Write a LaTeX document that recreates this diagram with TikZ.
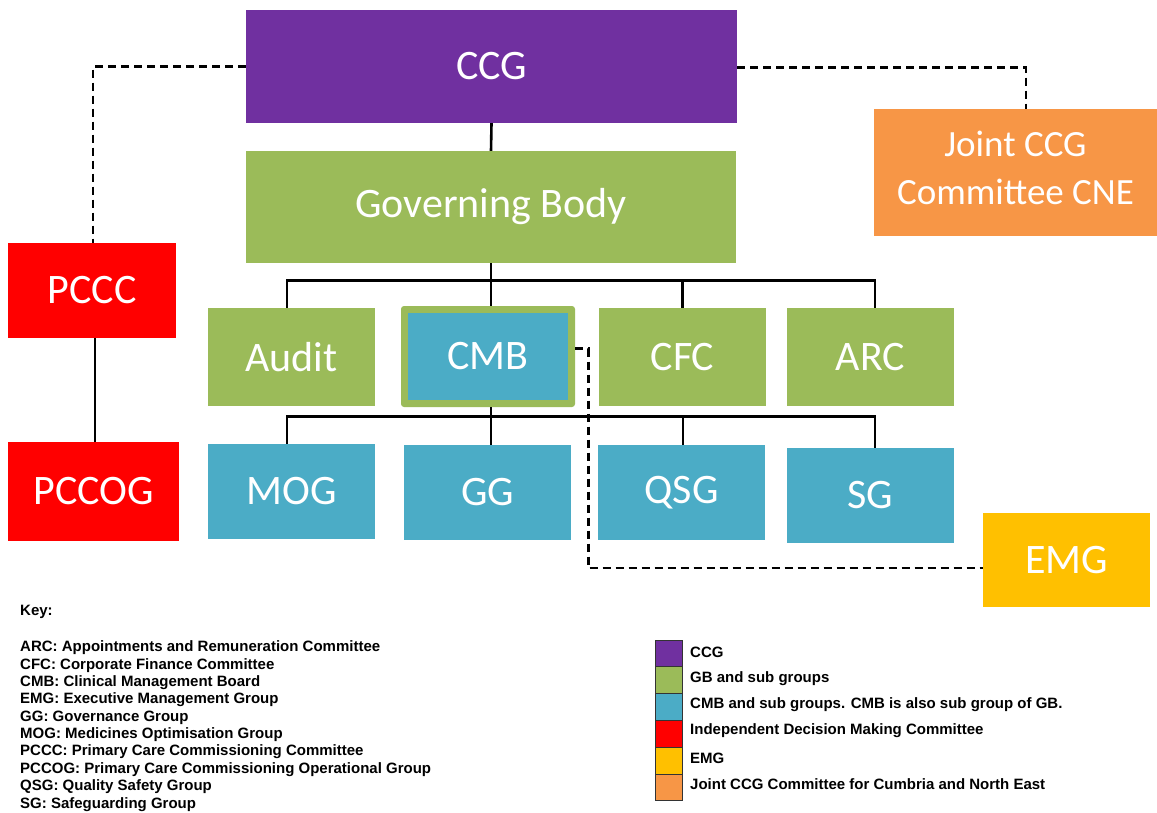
\documentclass[tikz,border=0pt]{standalone}
\usepackage{fontspec}
\setmainfont{Liberation Sans}
\newfontfamily\boxfont{Carlito}
\definecolor{ccgpurple}{HTML}{7030A0}
\definecolor{gbgreen}{HTML}{9BBB59}
\definecolor{cmbblue}{HTML}{4BACC6}
\definecolor{redbox}{HTML}{FF0000}
\definecolor{emgyellow}{HTML}{FFC000}
\definecolor{jointorange}{HTML}{F79646}
\begin{document}
\begin{tikzpicture}[x=1pt,y=-1pt,
  box/.style={fill=#1, text=white, inner sep=0pt, font=\boxfont\fontsize{42}{48}\selectfont, align=center},
  conn/.style={line width=2.6pt, black},
  dconn/.style={line width=2.6pt, black, dash pattern=on 8pt off 5pt},
  keytext/.style={anchor=west, inner sep=0pt, font=\bfseries\fontsize{15}{17}\selectfont},
  swatch/.style={fill=#1, draw=black!80, line width=1pt, minimum width=27pt, minimum height=26.8pt, inner sep=0pt},
  legtext/.style={anchor=west, inner sep=0pt, font=\bfseries\fontsize{15}{17}\selectfont}]
\useasboundingbox (0,0) rectangle (1157,812);

% main boxes
\node[box=ccgpurple, minimum width=491pt, minimum height=113pt] (ccg) at (491.5,66.5) {CCG};
\node[box=gbgreen, minimum width=490pt, minimum height=112pt] (gb) at (491,207) {Governing Body};
\node[box=jointorange, minimum width=283pt, minimum height=127pt, text depth=10pt, font=\boxfont\fontsize{37}{48}\selectfont] (joint) at (1015.5,172.5) {Joint CCG\\Committee CNE};
\node[box=redbox, minimum width=168pt, minimum height=95pt] (pccc) at (92,290.5) {PCCC};
\node[box=redbox, minimum width=171pt, minimum height=99pt] (pccog) at (93.5,491.5) {PCCOG};

\node[box=gbgreen, minimum width=167pt, minimum height=98pt] (audit) at (291.5,357) {Audit};
\node[fill=gbgreen, rounded corners=3pt, minimum width=174pt, minimum height=101pt, inner sep=0pt] (cmbo) at (488,356.5) {};
\node[box=cmbblue, minimum width=160pt, minimum height=87pt] (cmb) at (488,356.5) {CMB};
\node[box=gbgreen, minimum width=167pt, minimum height=98pt] (cfc) at (682.5,357) {CFC};
\node[box=gbgreen, minimum width=167pt, minimum height=98pt] (arc) at (870.5,357) {ARC};

\node[box=cmbblue, minimum width=167pt, minimum height=95pt] (mog) at (291.5,491.5) {MOG};
\node[box=cmbblue, minimum width=167pt, minimum height=95pt] (gg) at (487.5,492.5) {GG};
\node[box=cmbblue, minimum width=167pt, minimum height=95pt] (qsg) at (681.5,492.5) {QSG};
\node[box=cmbblue, minimum width=167pt, minimum height=95pt] (sg) at (870.5,495.5) {SG};
\node[box=emgyellow, minimum width=167pt, minimum height=94pt] (emg) at (1066.5,560) {EMG};

% solid connectors
\draw[conn] (ccg.south) -- (gb.north);
\draw[conn] (gb.south) -- ++(0,17) coordinate (b1);
\draw[conn] ([xshift=-4.5pt]audit.north) |- (b1);
\draw[conn] ([xshift=3pt]cmbo.north) -- ([xshift=3pt]cmbo.north |- b1);
\draw[conn] (cfc.north) |- (b1);
\draw[conn] ([xshift=4.5pt]arc.north) |- (b1);

\draw[conn] ([xshift=3pt]cmbo.south) -- ++(0,9) coordinate (b2);
\draw[conn] ([xshift=-4.5pt]mog.north) |- (b2);
\draw[conn] ([xshift=3.5pt]gg.north) -- (b2);
\draw[conn] ([xshift=1.5pt]qsg.north) |- (b2);
\draw[conn] ([xshift=4.5pt]sg.north) |- (b2);

\draw[conn] ([xshift=3pt]pccc.south) -- ([xshift=1.5pt]pccog.north);

% dashed connectors
\draw[dconn] (ccg.west) -| ([xshift=1pt]pccc.north);
\draw[dconn] ([yshift=-1pt]ccg.east) -| ([xshift=10.5pt]joint.north);
\draw[dconn] ([yshift=8pt]cmbo.east) -- ++(13,0) |- ([yshift=-8pt]emg.west);

% key
\node[keytext] (key) at (20,612) {Key:};
\node[keytext] (k1) at (20,648) {ARC: Appointments and Remuneration Committee};
\node[keytext] (k2) at (20,665.4) {CFC: Corporate Finance Committee};
\node[keytext] (k3) at (20,682.7) {CMB: Clinical Management Board};
\node[keytext] (k4) at (20,700.1) {EMG: Executive Management Group};
\node[keytext] (k5) at (20,717.4) {GG: Governance Group};
\node[keytext] (k6) at (20,734.8) {MOG: Medicines Optimisation Group};
\node[keytext] (k7) at (20,752.1) {PCCC: Primary Care Commissioning Committee};
\node[keytext] (k8) at (20,769.5) {PCCOG: Primary Care Commissioning Operational Group};
\node[keytext] (k9) at (20,786.8) {QSG: Quality Safety Group};
\node[keytext] (k10) at (20,804.2) {SG: Safeguarding Group};

% legend
\node[swatch=ccgpurple] (s1) at (668.5,653.4) {};
\node[swatch=gbgreen] (s2) at (668.5,680.2) {};
\node[swatch=cmbblue] (s3) at (668.5,707) {};
\node[swatch=redbox] (s4) at (668.5,733.8) {};
\node[swatch=emgyellow] (s5) at (668.5,760.6) {};
\node[swatch=jointorange] (s6) at (668.5,787.4) {};
\node[legtext] (l1) at (690,652) {CCG};
\node[legtext] (l2) at (690,679) {GB and sub groups};
\node[legtext] (l3) at (690,705) {CMB and sub groups. CMB is also sub group of GB.};
\node[legtext] (l4) at (690,731) {Independent Decision Making Committee};
\node[legtext] (l5) at (690,758) {EMG};
\node[legtext] (l6) at (690,784) {Joint CCG Committee for Cumbria and North East};
\end{tikzpicture}
\end{document}
